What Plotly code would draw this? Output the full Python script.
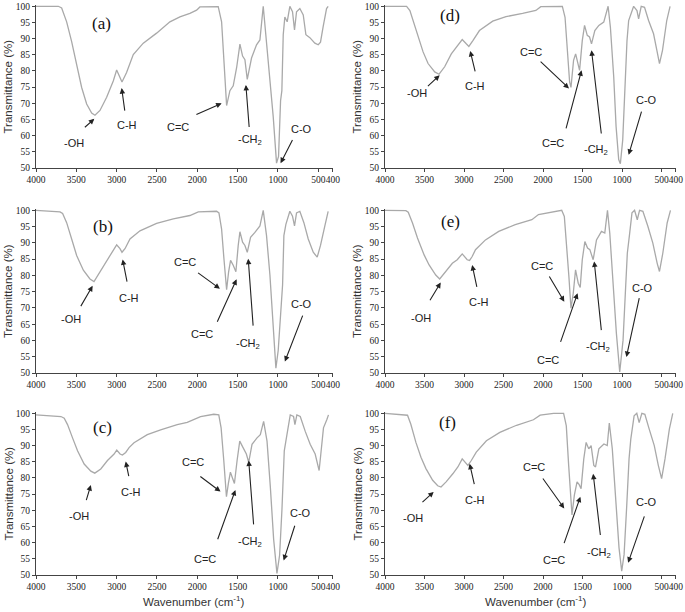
import plotly.graph_objects as go

# ---------------- data (wavenumber, transmittance %) ----------------
wn_a = [4000, 3723, 3682, 3620, 3558, 3496, 3434, 3372, 3310, 3269, 3207, 3124, 3042, 3000, 2967, 2934, 2877, 2794, 2670, 2505, 2340, 2216, 2092, 2009, 1968, 1761, 1741, 1699, 1670, 1637, 1596, 1555, 1513, 1472, 1439, 1410, 1381, 1328, 1266, 1224, 1183, 1142, 1109, 1092, 1059, 1018, 993, 968, 952, 935, 915, 886, 853, 820, 795, 770, 729, 687, 654, 605, 543, 501, 473, 440, 398, 378]
t_a = [100, 100, 99.5, 95.2, 89.1, 82.0, 74.9, 69.8, 67.0, 66.3, 67.8, 71.9, 76.9, 80.3, 78.5, 76.6, 79.5, 85.1, 88.6, 91.7, 95.2, 96.7, 97.8, 98.8, 99.8, 100, 99.9, 95.2, 81.0, 69.3, 73.9, 75.4, 81.0, 88.3, 84.6, 83.5, 77.4, 84.0, 88.1, 89.6, 100, 89.1, 79.0, 76.4, 65.8, 51.5, 53.6, 70.8, 73.9, 91.2, 96.7, 95.2, 100, 98.3, 92.7, 98.3, 99.3, 97.3, 91.2, 90.3, 88.6, 88.1, 88.9, 93.7, 99.3, 100]

wn_b = [4000, 3703, 3670, 3620, 3558, 3496, 3413, 3331, 3281, 3207, 3124, 3042, 3000, 2959, 2934, 2897, 2835, 2711, 2505, 2298, 2092, 1988, 1761, 1732, 1699, 1670, 1637, 1612, 1588, 1555, 1522, 1493, 1472, 1439, 1410, 1381, 1340, 1286, 1224, 1183, 1142, 1100, 1059, 1026, 997, 968, 943, 927, 902, 853, 820, 795, 770, 729, 679, 625, 563, 514, 473, 419, 378]
t_b = [100, 99.5, 99.0, 96.2, 91.2, 86.1, 81.6, 78.9, 78.1, 81.1, 84.6, 87.7, 89.4, 88.2, 87.1, 88.2, 91.2, 93.7, 96.0, 97.4, 98.4, 99.5, 99.7, 99.2, 94.2, 85.1, 75.6, 81.1, 84.6, 83.1, 81.1, 89.2, 93.4, 90.2, 89.2, 87.1, 91.7, 93.2, 95.2, 100, 92.2, 80.1, 64.1, 51.5, 57.0, 69.1, 77.1, 92.2, 95.7, 99.7, 98.2, 95.2, 99.2, 99.7, 96.2, 91.2, 87.1, 85.6, 89.2, 95.2, 99.7]

wn_c = [4000, 3815, 3691, 3650, 3609, 3547, 3485, 3403, 3320, 3271, 3197, 3114, 3032, 2999, 2958, 2929, 2888, 2846, 2785, 2620, 2455, 2249, 2125, 1960, 1796, 1734, 1705, 1672, 1639, 1615, 1590, 1569, 1540, 1507, 1474, 1433, 1392, 1363, 1322, 1260, 1219, 1178, 1136, 1095, 1054, 1013, 980, 951, 922, 889, 848, 807, 790, 766, 724, 662, 601, 539, 490, 469, 436, 395, 374]
t_c = [99.5, 99.3, 99.0, 98.5, 96.5, 92.4, 88.4, 84.3, 82.1, 81.5, 82.8, 85.4, 87.4, 88.6, 87.4, 87.1, 87.9, 89.4, 90.9, 93.4, 94.9, 96.5, 97.2, 99.0, 99.7, 99.5, 95.5, 85.4, 74.2, 78.3, 81.8, 80.3, 78.3, 85.4, 91.4, 89.4, 87.4, 84.8, 90.4, 92.4, 93.4, 97.5, 91.4, 77.3, 61.1, 50.5, 56.1, 70.2, 88.4, 93.4, 99.5, 99.0, 96.5, 99.5, 99.0, 94.4, 90.4, 87.4, 82.3, 87.4, 95.5, 98.0, 99.5]

wn_d = [4000, 3727, 3685, 3643, 3581, 3518, 3455, 3371, 3316, 3245, 3161, 3098, 3023, 2972, 2939, 2888, 2805, 2637, 2469, 2259, 2091, 2029, 1756, 1722, 1693, 1664, 1647, 1614, 1588, 1555, 1538, 1504, 1475, 1441, 1412, 1387, 1345, 1294, 1232, 1177, 1148, 1106, 1076, 1043, 1022, 992, 967, 938, 917, 875, 854, 812, 791, 758, 716, 665, 602, 560, 527, 489, 435, 393]
t_d = [100, 100, 98.7, 95.6, 90.5, 85.9, 82.3, 79.7, 79.0, 81.3, 85.3, 87.4, 89.7, 88.4, 87.6, 89.4, 92.5, 95.4, 96.8, 97.8, 98.7, 99.9, 100, 96.6, 86.4, 76.6, 74.9, 83.3, 85.3, 81.8, 80.2, 89.4, 94.1, 91.0, 90.5, 88.4, 92.5, 94.1, 95.1, 100, 93.5, 78.2, 62.8, 52.6, 51.3, 58.7, 74.1, 89.4, 95.6, 98.7, 100, 98.7, 96.1, 100, 99.7, 95.6, 91.5, 86.4, 82.3, 86.4, 95.6, 100]

wn_e = [4000, 3736, 3706, 3652, 3589, 3505, 3442, 3358, 3308, 3232, 3148, 3086, 3023, 2960, 2930, 2897, 2855, 2729, 2561, 2352, 2142, 2058, 1890, 1764, 1731, 1702, 1673, 1647, 1618, 1589, 1555, 1530, 1504, 1471, 1437, 1408, 1366, 1324, 1261, 1219, 1185, 1156, 1114, 1072, 1030, 988, 959, 934, 904, 875, 842, 808, 779, 737, 674, 611, 556, 527, 485, 430, 388]
t_e = [100, 99.9, 99.4, 96.1, 91.5, 86.3, 83.2, 80.1, 78.9, 81.2, 83.7, 84.8, 86.6, 84.8, 84.6, 85.8, 87.9, 90.9, 93.5, 95.6, 97.1, 98.7, 99.4, 100, 98.1, 89.9, 79.6, 69.9, 74.5, 81.7, 77.6, 76.3, 84.8, 90.4, 88.4, 87.9, 84.8, 90.9, 93.5, 93.0, 100, 93.0, 77.6, 62.1, 50.3, 60.1, 74.5, 86.8, 93.0, 99.2, 100, 97.1, 100, 99.7, 95.1, 89.9, 83.7, 81.2, 86.8, 96.1, 100]

wn_f = [4000, 3822, 3715, 3673, 3609, 3545, 3482, 3397, 3333, 3291, 3227, 3142, 3078, 3023, 2972, 2951, 2908, 2845, 2717, 2547, 2335, 2122, 2037, 1867, 1740, 1706, 1676, 1647, 1634, 1604, 1570, 1545, 1519, 1485, 1455, 1422, 1392, 1358, 1336, 1294, 1230, 1188, 1162, 1124, 1082, 1039, 1005, 975, 941, 912, 890, 848, 814, 784, 750, 712, 657, 593, 542, 500, 457, 402, 359]
t_f = [100, 99.6, 99.4, 96.6, 91.0, 86.4, 82.9, 79.3, 77.6, 77.2, 78.8, 81.3, 83.4, 85.9, 84.4, 83.9, 85.4, 88.0, 91.5, 94.1, 96.3, 98.0, 99.4, 100, 100, 96.1, 83.9, 70.6, 68.6, 74.7, 78.8, 78.0, 76.7, 85.9, 91.0, 89.0, 90.0, 83.9, 83.4, 89.0, 90.5, 90.0, 97.0, 89.0, 73.7, 58.4, 51.2, 56.3, 71.6, 85.9, 92.0, 99.2, 100, 97.1, 100, 99.7, 95.1, 90.0, 83.9, 79.8, 85.9, 95.1, 100]

x_tick_vals = [4000, 3500, 3000, 2500, 2000, 1500, 1000, 500, 320]
x_tick_text = ["4000", "3500", "3000", "2500", "2000", "1500", "1000", "500", "400"]
y_tick_vals = [50, 55, 60, 65, 70, 75, 80, 85, 90, 95, 100]

panel_names = ["(a)", "(b)", "(c)", "(d)", "(e)", "(f)"]
panel_data = [(wn_a, t_a), (wn_b, t_b), (wn_c, t_c), (wn_d, t_d), (wn_e, t_e), (wn_f, t_f)]

# label: (text, text_x, text_y, tail_x, tail_y, head_x, head_y)
labels = {
    0: [("-OH", 3529, 57.6, 3413, 62.2, 3277, 65.2),
        ("C-H", 2877, 63.2, 2897, 67.3, 2938, 74.7),
        ("C=C", 2236, 62.7, 2030, 66.3, 1699, 70.0),
        ("-CH<sub>2</sub>", 1348, 58.6, 1356, 62.2, 1398, 75.7),
        ("C-O", 708, 62.2, 811, 59.1, 968, 51.5)],
    1: [("-OH", 3570, 66.6, 3455, 70.1, 3298, 76.8),
        ("C-H", 2843, 73.1, 2868, 77.6, 2926, 84.9),
        ("C=C", 2154, 84.1, 2009, 81.1, 1720, 75.9),
        ("C=C", 1947, 62.0, 1761, 65.3, 1513, 78.8),
        ("-CH<sub>2</sub>", 1369, 59.0, 1307, 64.1, 1369, 85.1),
        ("C-O", 708, 71.1, 687, 68.1, 915, 53.5)],
    2: [("-OH", 3464, 68.2, 3382, 72.7, 3320, 77.8),
        ("C-H", 2826, 75.8, 2846, 80.1, 2888, 85.1),
        ("C=C", 2051, 84.8, 1981, 80.8, 1713, 75.8),
        ("C=C", 1899, 55.1, 1754, 60.6, 1528, 76.3),
        ("-CH<sub>2</sub>", 1342, 60.1, 1301, 65.2, 1363, 85.4),
        ("C-O", 724, 69.2, 786, 65.7, 930, 54.5)],
    3: [("-OH", 3593, 73.1, 3476, 74.9, 3308, 78.7),
        ("C-H", 2855, 75.3, 2855, 79.4, 2922, 86.2),
        ("C=C", 2154, 85.9, 2050, 83.3, 1672, 74.6),
        ("C=C", 1873, 57.7, 1714, 61.8, 1513, 80.2),
        ("-CH<sub>2</sub>", 1328, 55.6, 1261, 60.2, 1387, 86.4),
        ("C-O", 686, 71.0, 749, 67.9, 917, 54.1)],
    4: [("-OH", 3547, 66.8, 3442, 71.9, 3295, 77.8),
        ("C-H", 2813, 71.9, 2834, 76.0, 2897, 83.2),
        ("C=C", 2016, 82.9, 1932, 80.1, 1731, 71.9),
        ("C=C", 1932, 53.9, 1785, 59.1, 1563, 74.5),
        ("-CH<sub>2</sub>", 1303, 58.0, 1261, 62.7, 1353, 84.3),
        ("C-O", 737, 76.0, 779, 73.5, 946, 54.9)],
    5: [("-OH", 3643, 67.6, 3545, 72.1, 3384, 75.7),
        ("C-H", 2866, 73.2, 2866, 77.6, 2929, 84.4),
        ("C=C", 2114, 83.4, 2016, 80.3, 1732, 70.6),
        ("C=C", 1867, 54.5, 1740, 59.4, 1528, 74.2),
        ("-CH<sub>2</sub>", 1294, 56.8, 1273, 61.9, 1366, 81.3),
        ("C-O", 686, 72.7, 712, 68.6, 924, 53.8)],
}
panel_label_pos = [(3186, 94.7), (3166, 95.0), (3176, 95.5), (3182, 97.1), (3169, 96.6), (3206, 97.1)]

# ---------------- layout geometry (pixels) ----------------
W, H = 685, 612
cols = [(36, 333), (385, 676)]
rows = [(5, 168), (209, 373), (412, 575)]

def xd(p):
    return p / W

def yd(p):
    return 1 - p / H

fig = go.Figure()
layout = dict(width=W, height=H, margin=dict(l=0, r=0, t=0, b=0, autoexpand=False),
              paper_bgcolor="white", plot_bgcolor="white", showlegend=False)
annotations = []

tick_font = dict(family="Liberation Serif, Times New Roman, serif", size=9.5, color="#222")
txt_font = dict(family="Liberation Sans, Arial, sans-serif", size=11, color="#222")

for i in range(6):
    c = 0 if i < 3 else 1
    r = i % 3
    n = "" if i == 0 else str(i + 1)
    xa, ya = "xaxis" + n, "yaxis" + n
    xr, yr = "x" + n, "y" + n
    wn, tt = panel_data[i]
    fig.add_trace(go.Scatter(x=wn, y=tt, mode="lines", xaxis=xr, yaxis=yr,
                             line=dict(color="#a9a9a9", width=1.3), hoverinfo="skip"))
    layout[xa] = dict(domain=[xd(cols[c][0]), xd(cols[c][1])], anchor=yr,
                      range=[4000, 318], tickvals=x_tick_vals, ticktext=x_tick_text,
                      tickangle=0,
                      ticks="outside", ticklen=3, tickcolor="#444", showline=True,
                      linecolor="#444", linewidth=1, showgrid=False, zeroline=False,
                      tickfont=tick_font)
    layout[ya] = dict(domain=[yd(rows[r][1]), yd(rows[r][0])], anchor=xr,
                      range=[50, 100.4], tickvals=y_tick_vals,
                      ticks="outside", ticklen=3, tickcolor="#444", showline=True,
                      linecolor="#444", linewidth=1, showgrid=False, zeroline=False,
                      tickfont=tick_font)
    px_, py_ = panel_label_pos[i]
    annotations.append(dict(x=px_, y=py_, xref=xr, yref=yr, text=panel_names[i],
                            showarrow=False,
                            font=dict(family="Liberation Serif, Times New Roman, serif",
                                      size=17, color="#111")))
    for (t, tx, ty, axx, ayy, hx, hy) in labels[i]:
        annotations.append(dict(x=hx, y=hy, xref=xr, yref=yr, ax=axx, ay=ayy,
                                axref=xr, ayref=yr, text="", showarrow=True,
                                arrowhead=2, arrowsize=1, arrowwidth=1.1,
                                arrowcolor="#222"))
        annotations.append(dict(x=tx, y=ty, xref=xr, yref=yr, text=t,
                                showarrow=False, font=txt_font))
    # y axis title
    annotations.append(dict(x=xd(8 if c == 0 else 357), y=yd((rows[r][0] + rows[r][1]) / 2),
                            xref="paper", yref="paper", text="Transmittance (%)",
                            xanchor="center", yanchor="middle",
                            textangle=-90, showarrow=False,
                            font=dict(family="Liberation Sans, Arial, sans-serif", size=11.5, color="#333")))

for cx in (193, 535):
    annotations.append(dict(x=xd(cx), y=yd(601), xref="paper", yref="paper",
                            xanchor="center", yanchor="middle",
                            text="Wavenumber (cm<sup>-1</sup>)", showarrow=False,
                            font=dict(family="Liberation Sans, Arial, sans-serif", size=11.5, color="#333")))

layout["annotations"] = annotations
fig.update_layout(**layout)
fig.write_html("out.html", config={"displayModeBar": False},
               post_script="document.body.style.margin='0px';document.body.style.overflow='hidden';")
